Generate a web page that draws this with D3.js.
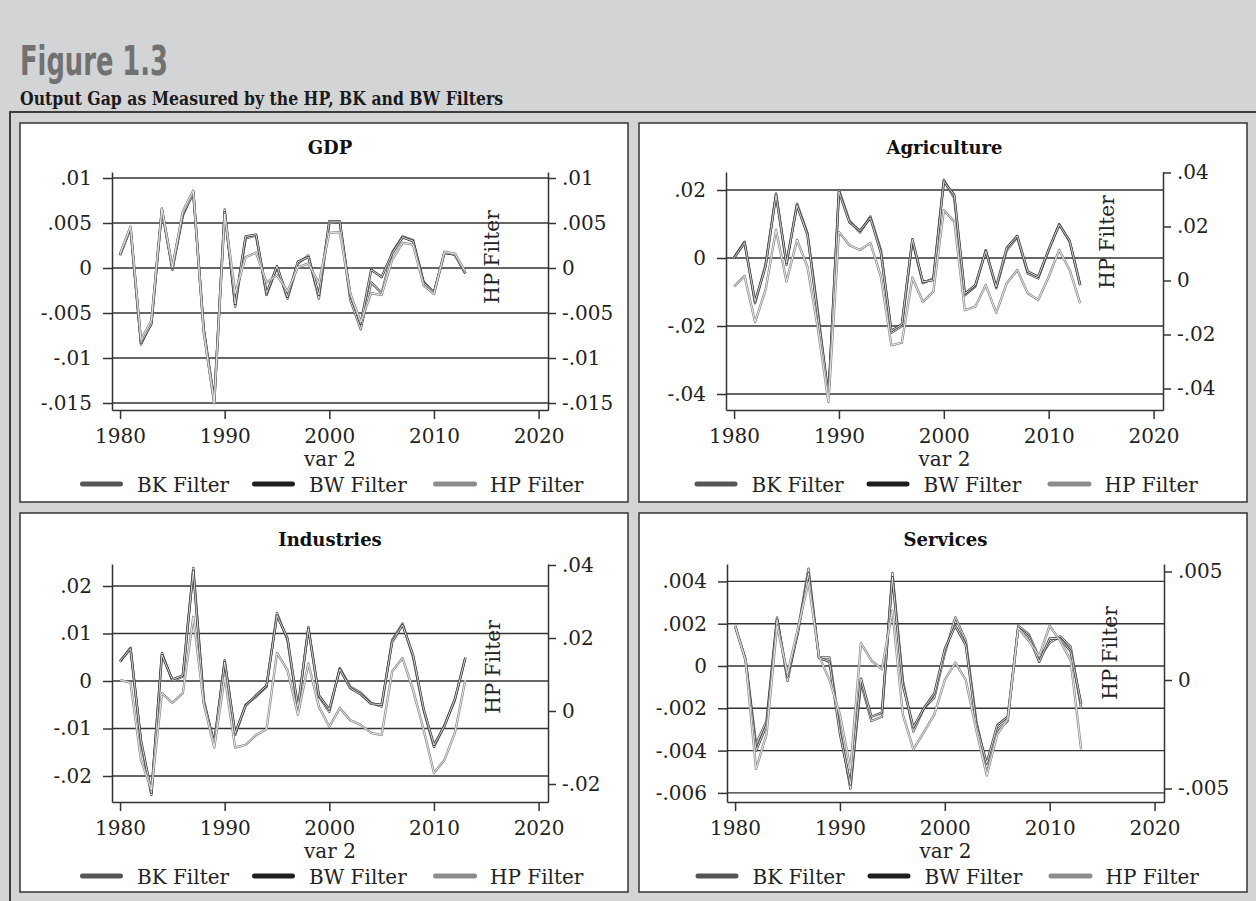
<!DOCTYPE html>
<html><head><meta charset="utf-8">
<script src="https://cdn.jsdelivr.net/npm/d3@7"></script>
<style>body{margin:0;background:#d3d4d6}</style>
</head><body><svg id="c" width="1256" height="901"></svg>
<script>
// ---------- data ----------
const figureLabel = "Figure 1.3";
const figureTitle = "Output Gap as Measured by the HP, BK and BW Filters";
const panelTitles = ["GDP", "Agriculture", "Industries", "Services"];
const seriesNames = ["BK Filter", "BW Filter", "HP Filter"];
const xAxisTitle = "var 2";
const rightAxisTitle = "HP Filter";
const years = [1980,1981,1982,1983,1984,1985,1986,1987,1988,1989,1990,1991,1992,1993,1994,1995,1996,1997,1998,1999,2000,2001,2002,2003,2004,2005,2006,2007,2008,2009,2010,2011,2012,2013];
const xTicks = [1980, 1990, 2000, 2010, 2020];
const xTickLabels = ["1980", "1990", "2000", "2010", "2020"];

const gdpBK = [0.0015,0.0045,-0.0085,-0.0060,0.0066,-0.0002,0.0058,0.0085,-0.0070,-0.0150,0.0065,-0.0043,0.0033,0.0036,-0.0030,0.0001,-0.0034,0.0005,0.0014,-0.0034,0.0050,0.0051,-0.0035,-0.0068,-0.0016,-0.0028,0.0017,0.0035,0.0031,-0.0015,-0.0028,0.0017,0.0015,-0.0006];
const gdpBW = [0.0014,0.0044,-0.0083,-0.0062,0.0064,0.0000,0.0060,0.0083,-0.0068,-0.0147,0.0062,-0.0040,0.0035,0.0037,-0.0028,0.0002,-0.0032,0.0007,0.0012,-0.0030,0.0052,0.0052,-0.0030,-0.0062,-0.0002,-0.0010,0.0016,0.0034,0.0030,-0.0016,-0.0027,0.0017,0.0015,-0.0006];
const gdpHP = [0.0016,0.0046,-0.0080,-0.0058,0.0066,0.0001,0.0063,0.0086,-0.0072,-0.0150,0.0060,-0.0028,0.0012,0.0017,-0.0016,-0.0008,-0.0026,0.0001,0.0005,-0.0017,0.0039,0.0040,-0.0028,-0.0060,-0.0028,-0.0030,0.0009,0.0028,0.0026,-0.0019,-0.0029,0.0018,0.0016,-0.0004];

const agrBK = [0.0002,0.0048,-0.0133,-0.0020,0.0190,-0.0020,0.0160,0.0073,-0.0160,-0.0410,0.0200,0.0110,0.0075,0.0122,0.0023,-0.0220,-0.0200,0.0050,-0.0074,-0.0060,0.0230,0.0176,-0.0110,-0.0084,0.0023,-0.0089,0.0023,0.0061,-0.0045,-0.0060,0.0023,0.0100,0.0048,-0.0079];
const agrBW = [0.0000,0.0045,-0.0128,-0.0025,0.0185,-0.0015,0.0155,0.0068,-0.0170,-0.0405,0.0195,0.0105,0.0080,0.0118,0.0015,-0.0215,-0.0195,0.0055,-0.0070,-0.0065,0.0225,0.0185,-0.0105,-0.0080,0.0020,-0.0085,0.0030,0.0065,-0.0040,-0.0055,0.0025,0.0098,0.0050,-0.0080];
const agrHP = [-0.0023,0.0017,-0.0154,-0.0035,0.0187,-0.0004,0.0150,0.0050,-0.0180,-0.0450,0.0180,0.0131,0.0113,0.0139,0.0014,-0.0240,-0.0230,0.0010,-0.0079,-0.0041,0.0260,0.0218,-0.0110,-0.0097,-0.0017,-0.0120,-0.0010,0.0039,-0.0047,-0.0072,0.0014,0.0113,0.0039,-0.0085];

const indBK = [0.0040,0.0070,-0.0130,-0.0240,0.0059,0.0000,0.0009,0.0238,-0.0040,-0.0135,0.0044,-0.0114,-0.0050,-0.0033,-0.0012,0.0143,0.0086,-0.0060,0.0114,-0.0033,-0.0065,0.0027,-0.0012,-0.0025,-0.0046,-0.0054,0.0086,0.0121,0.0051,-0.0060,-0.0139,-0.0093,-0.0040,0.0050];
const indBW = [0.0042,0.0068,-0.0125,-0.0235,0.0055,0.0003,0.0012,0.0232,-0.0045,-0.0130,0.0040,-0.0110,-0.0052,-0.0030,-0.0010,0.0138,0.0090,-0.0055,0.0110,-0.0030,-0.0060,0.0025,-0.0015,-0.0028,-0.0048,-0.0050,0.0082,0.0118,0.0055,-0.0058,-0.0135,-0.0095,-0.0038,0.0048];
const indHP = [0.0085,0.0077,-0.0134,-0.0216,0.0049,0.0022,0.0049,0.0258,0.0020,-0.0100,0.0094,-0.0100,-0.0093,-0.0066,-0.0050,0.0159,0.0112,-0.0010,0.0130,0.0012,-0.0043,0.0008,-0.0025,-0.0038,-0.0060,-0.0066,0.0108,0.0145,0.0058,-0.0050,-0.0170,-0.0134,-0.0060,0.0085];

const serBK = [0.0019,0.0003,-0.0037,-0.0026,0.0023,-0.0007,0.0017,0.0046,0.0004,0.0004,-0.0030,-0.0058,-0.0008,-0.0026,-0.0024,0.0044,-0.0007,-0.0031,-0.0020,-0.0015,0.0006,0.0023,0.0012,-0.0026,-0.0048,-0.0030,-0.0026,0.0019,0.0015,0.0004,0.0011,0.0014,0.0009,-0.0020];
const serBW = [0.0019,0.0003,-0.0040,-0.0028,0.0022,-0.0005,0.0016,0.0044,0.0004,0.0002,-0.0032,-0.0056,-0.0006,-0.0024,-0.0022,0.0042,-0.0009,-0.0029,-0.0020,-0.0013,0.0008,0.0019,0.0010,-0.0028,-0.0046,-0.0028,-0.0024,0.0018,0.0014,0.0002,0.0013,0.0013,0.0007,-0.0018];
const serHP = [0.0025,0.0009,-0.0041,-0.0025,0.0025,0.0003,0.0024,0.0045,0.0011,0.0000,-0.0016,-0.0041,0.0017,0.0009,0.0005,0.0032,-0.0016,-0.0032,-0.0024,-0.0016,0.0000,0.0008,0.0000,-0.0023,-0.0044,-0.0025,-0.0018,0.0024,0.0018,0.0011,0.0025,0.0018,0.0009,-0.0032];

const gdpLeftTicks = [0.01, 0.005, 0, -0.005, -0.01, -0.015];
const gdpLeftLabels = [".01", ".005", "0", "-.005", "-.01", "-.015"];
const gdpRightTicks = [0.01, 0.005, 0, -0.005, -0.01, -0.015];
const gdpRightLabels = [".01", ".005", "0", "-.005", "-.01", "-.015"];
const agrLeftTicks = [0.02, 0, -0.02, -0.04];
const agrLeftLabels = [".02", "0", "-.02", "-.04"];
const agrRightTicks = [0.04, 0.02, 0, -0.02, -0.04];
const agrRightLabels = [".04", ".02", "0", "-.02", "-.04"];
const indLeftTicks = [0.02, 0.01, 0, -0.01, -0.02];
const indLeftLabels = [".02", ".01", "0", "-.01", "-.02"];
const indRightTicks = [0.04, 0.02, 0, -0.02];
const indRightLabels = [".04", ".02", "0", "-.02"];
const serLeftTicks = [0.004, 0.002, 0, -0.002, -0.004, -0.006];
const serLeftLabels = [".004", ".002", "0", "-.002", "-.004", "-.006"];
const serRightTicks = [0.005, 0, -0.005];
const serRightLabels = [".005", "0", "-.005"];

// ---------- layout ----------
const FONT = "'DejaVu Serif', serif";
const xDomain = [1979.23, 2020.9];
const panels = [
  {t:0, x0:20,  y0:123, L:112, R:548,  T:172, B:410, yl:[-0.015778,0.010667], yr:[-0.015778,0.010667],
   lt:gdpLeftTicks, ll:gdpLeftLabels, rt:gdpRightTicks, rl:gdpRightLabels, s:[gdpBK,gdpBW,gdpHP], hp:[499,257]},
  {t:1, x0:639, y0:123, L:726, R:1163, T:172, B:410, yl:[-0.044706,0.025294], yr:[-0.047963,0.040185],
   lt:agrLeftTicks, ll:agrLeftLabels, rt:agrRightTicks, rl:agrRightLabels, s:[agrBK,agrBW,agrHP], hp:[1114,242]},
  {t:2, x0:20,  y0:513, L:112, R:548,  T:564, B:802, yl:[-0.025474,0.024632], yr:[-0.024932,0.040274],
   lt:indLeftTicks, ll:indLeftLabels, rt:indRightTicks, rl:indRightLabels, s:[indBK,indBW,indHP], hp:[500,667]},
  {t:3, x0:639, y0:513, L:727, R:1164, T:564, B:802, yl:[-0.0064303,0.0048227], yr:[-0.0056221,0.0053456],
   lt:serLeftTicks, ll:serLeftLabels, rt:serRightTicks, rl:serRightLabels, s:[serBK,serBW,serHP], hp:[1117,653]}
];
const seriesColors = ["#5c5c5c", "#3a3a3a", "#8a8a8a"];
const legendColors = ["#555555", "#1e1e1e", "#8c8c8c"];
const legendLayout = [{l0:-250,l1:-207,tx:-193},{l0:-78,l1:-35,tx:-21},{l0:103,l1:147,tx:160}];

const svg = d3.select("#c");
svg.append("rect").attr("width",1256).attr("height",901).attr("fill","#d3d4d6");
svg.append("text").attr("x",20).attr("y",75).text(figureLabel)
  .attr("font-family","'DejaVu Sans Condensed','Liberation Sans Narrow',sans-serif").attr("font-weight","bold")
  .attr("font-size",40).attr("fill","#717171").attr("textLength",148).attr("lengthAdjust","spacingAndGlyphs");
svg.append("text").attr("x",20).attr("y",105).text(figureTitle)
  .attr("font-family",FONT).attr("font-weight","bold").attr("font-size",18).attr("fill","#1a1a1a")
  .attr("textLength",483).attr("lengthAdjust","spacingAndGlyphs");
svg.append("path").attr("d","M10,901V112H1256").attr("fill","none").attr("stroke","#3c3c3c").attr("stroke-width",2);

function styleAxis(g){
  g.attr("font-family",FONT).attr("font-size",20);
  g.select(".domain").attr("stroke","#333").attr("stroke-width",1.5);
  g.selectAll(".tick line").attr("stroke","#333").attr("stroke-width",1.5);
  g.selectAll(".tick text").attr("fill","#222");
}

panels.forEach(p => {
  const g = svg.append("g");
  g.append("rect").attr("x",p.x0).attr("y",p.y0).attr("width",608).attr("height",379)
    .attr("fill","#fff").attr("stroke","#333").attr("stroke-width",1.5);
  const x = d3.scaleLinear().domain(xDomain).range([p.L,p.R]);
  const yL = d3.scaleLinear().domain(p.yl).range([p.B,p.T]);
  const yR = d3.scaleLinear().domain(p.yr).range([p.B,p.T]);
  const cx = (p.L+p.R)/2;

  // gridlines
  g.selectAll(null).data(p.lt).join("line")
    .attr("x1",p.L).attr("x2",p.R).attr("y1",d=>yL(d)).attr("y2",d=>yL(d))
    .attr("stroke","#333").attr("stroke-width",1.4);

  // series (hollow-looking strokes, as in the scanned original)
  p.s.forEach((vals,i) => {
    const ys = i===2 ? yR : yL;
    const line = d3.line().x((d,k)=>x(years[k])).y(d=>ys(d));
    g.append("path").datum(vals).attr("d",line).attr("fill","none")
      .attr("stroke",seriesColors[i]).attr("stroke-width",2.4).attr("stroke-linejoin","round");
    g.append("path").datum(vals).attr("d",line).attr("fill","none")
      .attr("stroke","#fff").attr("stroke-width",0.9).attr("stroke-opacity",0.9).attr("stroke-linejoin","round");
  });

  // axes
  const la = g.append("g").attr("transform",`translate(${p.L},0)`)
    .call(d3.axisLeft(yL).tickValues(p.lt).tickFormat((d,i)=>p.ll[i]).tickSize(9).tickPadding(11).tickSizeOuter(0));
  styleAxis(la);
  const ra = g.append("g").attr("transform",`translate(${p.R},0)`)
    .call(d3.axisRight(yR).tickValues(p.rt).tickFormat((d,i)=>p.rl[i]).tickSize(8).tickPadding(6).tickSizeOuter(0));
  styleAxis(ra);
  const ba = g.append("g").attr("transform",`translate(0,${p.B})`)
    .call(d3.axisBottom(x).tickValues(xTicks).tickFormat((d,i)=>xTickLabels[i]).tickSize(9).tickSizeOuter(0));
  styleAxis(ba);
  ba.selectAll(".tick text").attr("dy",null).attr("y",33);

  // titles
  g.append("text").attr("x",cx).attr("y",p.T-18).attr("text-anchor","middle").text(panelTitles[p.t])
    .attr("font-family",FONT).attr("font-weight","bold").attr("font-size",18).attr("fill","#111");
  g.append("text").attr("x",cx).attr("y",p.B+56).attr("text-anchor","middle").text(xAxisTitle)
    .attr("font-family",FONT).attr("font-size",20).attr("fill","#222");
  g.append("text").attr("transform",`translate(${p.hp[0]},${p.hp[1]}) rotate(-90)`).attr("text-anchor","middle")
    .text(rightAxisTitle).attr("font-family",FONT).attr("font-size",20).attr("fill","#222");

  // legend
  seriesNames.forEach((nm,i) => {
    const L = legendLayout[i];
    g.append("line").attr("x1",cx+L.l0+2.5).attr("x2",cx+L.l1-2.5).attr("y1",p.B+74).attr("y2",p.B+74)
      .attr("stroke",legendColors[i]).attr("stroke-width",5).attr("stroke-linecap","round");
    g.append("text").attr("x",cx+L.tx).attr("y",p.B+82).text(nm)
      .attr("font-family",FONT).attr("font-size",20).attr("fill","#222");
  });
});
</script></body></html>
